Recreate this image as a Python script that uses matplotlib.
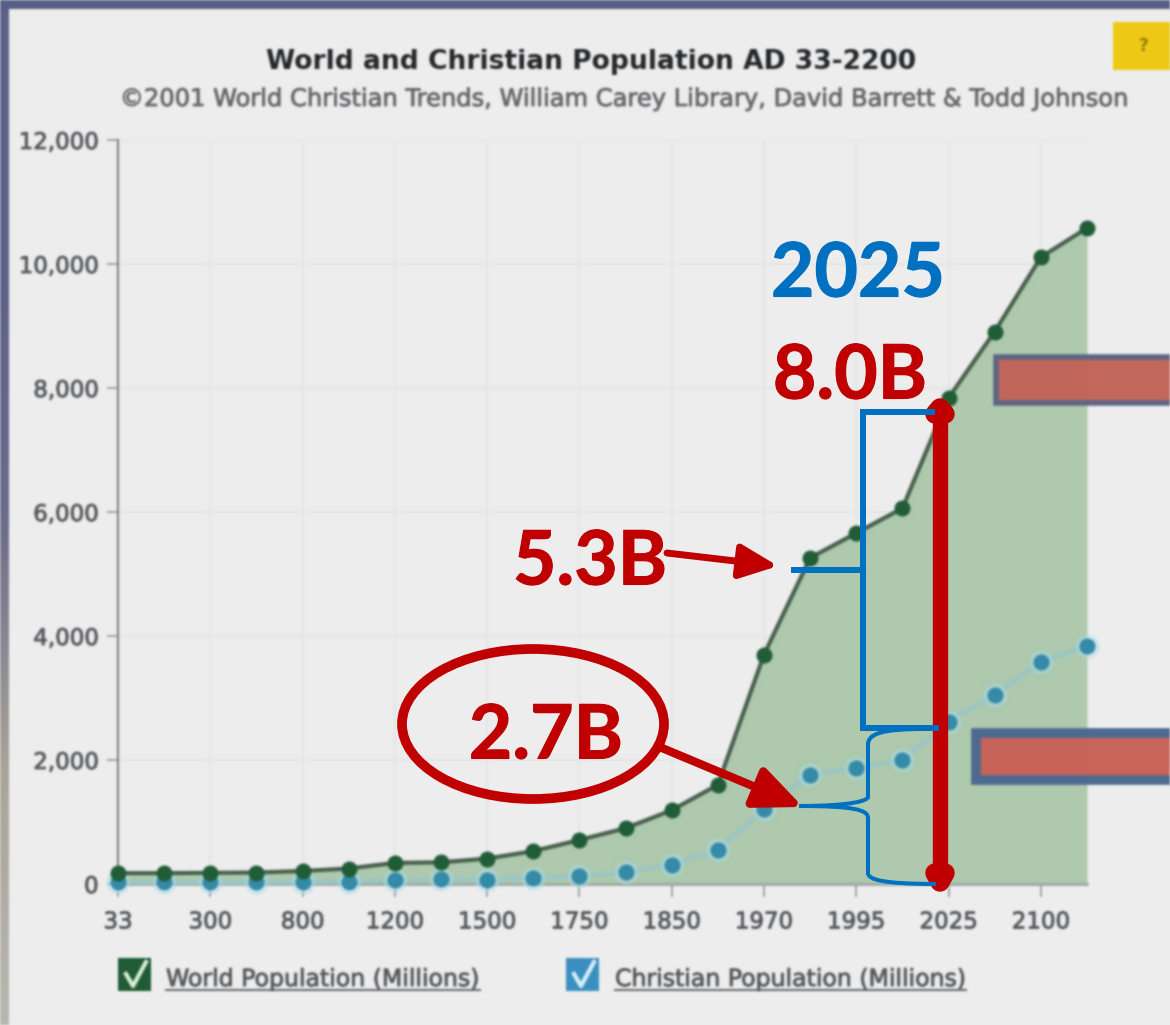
import numpy as np
import matplotlib
matplotlib.use('Agg')
import matplotlib.pyplot as plt
import matplotlib.patheffects as pe
from matplotlib.colors import LinearSegmentedColormap
from matplotlib.patches import Ellipse, PathPatch, Polygon, Rectangle
from matplotlib.path import Path

# Values (millions)
world_population = [175, 175, 180, 185, 210, 250, 340, 350, 410, 530, 710, 900,
                    1190, 1600, 3700, 5260, 5660, 6060, 7840, 8910, 10110, 10580]
christian_population = [30, 30, 30, 30, 35, 40, 60, 80, 70, 100, 130, 190,
                        310, 550, 1210, 1760, 1870, 2000, 2610, 3050, 3580, 3840]
x_tick_labels = ['33', '300', '800', '1200', '1500', '1750', '1850', '1970', '1995', '2025', '2100']
y_ticks = [0, 2000, 4000, 6000, 8000, 10000, 12000]

W, H = 1170, 1025
RED = '#c00000'
BLUE = '#0070c0'
GREY = '#55575a'


def blur(image, dpi, sigma=1.1):
    # the original is a video still, everything except the slide overlay is soft
    pad = int(sigma * 4)
    kernel = np.exp(-0.5 * (np.arange(-pad, pad + 1) / sigma) ** 2)
    kernel /= kernel.sum()
    img = np.pad(image, ((pad, pad), (pad, pad), (0, 0)))
    img[..., :3] *= img[..., 3:]
    for axis in (0, 1):
        img = np.apply_along_axis(lambda m: np.convolve(m, kernel, mode='same'), axis, img)
    img[..., :3] /= np.maximum(img[..., 3:], 1e-4)
    return np.clip(img, 0, 1), -pad, -pad


def heavier(text, width=0.6):
    text.set_path_effects([pe.withStroke(linewidth=width, foreground=text.get_color())])


fig = plt.figure(figsize=(W / 100, H / 100), dpi=100, facecolor='#ededee')

# Chart itself, placed on the screenshot's pixels
left, right, top, bottom = 118, 1087, 140, 884
ax = fig.add_axes([left / W, 1 - bottom / H, (right - left) / W, (bottom - top) / H], zorder=1)
ax.set_facecolor('none')
x = np.arange(len(world_population))
ax.fill_between(x, world_population, color='#aec9ad', lw=0, zorder=1)
ax.plot(x, christian_population, color='#9cc6c2', lw=3.5, zorder=3, clip_on=False)
ax.plot(x, christian_population, 'o', color='#a9dcea', ms=16, alpha=0.45, zorder=3, clip_on=False)
ax.plot(x, christian_population, 'o', color='#348aa8', ms=10.5, zorder=4, clip_on=False)
ax.plot(x, world_population, '-', color='#48604c', lw=3, zorder=5, clip_on=False)
ax.plot(x, world_population, 'o', color='#1f5c36', ms=10.5, zorder=6, clip_on=False)
ax.set_xlim(0, len(world_population) - 1)
ax.set_ylim(0, 12000)
ax.set_xticks(x[::2], x_tick_labels)
ax.set_yticks(y_ticks, [f'{v:,}' for v in y_ticks])
ax.grid(True, color='#e4e5e5', lw=1.5)
ax.set_axisbelow(True)
ax.tick_params(axis='x', length=9, width=1.3, color='#9a9fa0', labelcolor=GREY, labelsize=16.5, pad=10)
ax.tick_params(axis='y', length=8, width=1.3, color='#9a9fa0', labelcolor=GREY, labelsize=16.5, pad=6)
for label in ax.get_xticklabels() + ax.get_yticklabels():
    heavier(label)
for side in ('top', 'right'):
    ax.spines[side].set_visible(False)
ax.spines['left'].set_color('#7f8688')
ax.spines['left'].set_linewidth(1.6)
ax.spines['bottom'].set_color('#9aaba4')
ax.spines['bottom'].set_linewidth(2)
ax.set_agg_filter(blur)


def pixel_axes(zorder):
    a = fig.add_axes([0, 0, 1, 1], zorder=zorder)
    a.set_xlim(0, W)
    a.set_ylim(H, 0)
    a.axis('off')
    return a


# Rest of the screenshot: header, legend, frame, red boxes
shot = pixel_axes(2)
shot.text(591, 62, 'World and Christian Population AD 33-2200', ha='center', va='center',
          fontsize=19.1, fontweight='bold', color='#232527')
heavier(shot.text(624, 99, '©2001 World Christian Trends, William Carey Library, David Barrett & Todd Johnson',
                  ha='center', va='center', fontsize=17.4, color='#66686a'))

edge_cmap = LinearSegmentedColormap.from_list('edge', ['#5b6088', '#5b6088', '#6a6a8a', '#a8a498', '#b8b8b0'])
shot.imshow(np.linspace(0, 1, 256)[:, None], cmap=edge_cmap, extent=(0, 9, H, 0), aspect='auto')
shot.add_patch(Rectangle((0, 0), W, 9, color='#575e86', lw=0))
shot.set_xlim(0, W)
shot.set_ylim(H, 0)

shot.add_patch(Rectangle((1113, 22), 60, 48, color='#eec914', lw=0))
shot.text(1144, 46, '?', ha='center', va='center', fontsize=12, fontweight='bold', color='#8a7a10')

shot.add_patch(Rectangle((996, 357), 180, 46, fc='#c2665a', ec='#5e6684', lw=4))
shot.add_patch(Rectangle((976, 733), 200, 47, fc='#c8645a', ec='#4e6a90', lw=7))

# Legend
for lx, box, tick, label, tx, tx_end in [
        (118, '#1f5a34', '#d8f0d8', 'World Population (Millions)', 166, 480),
        (566, '#3a8fc0', '#d8f0fa', 'Christian Population (Millions)', 615, 966)]:
    shot.add_patch(Rectangle((lx, 958), 33, 33, color=box, lw=0))
    shot.plot([lx + 8, lx + 15, lx + 28], [974, 986, 962], color=tick, lw=3)
    heavier(shot.text(tx, 979, label, ha='left', va='center', fontsize=17, color=GREY))
    shot.plot([tx, tx_end], [990, 990], color='#6a6c6e', lw=1.5)
shot.set_agg_filter(blur)

# Slide overlay drawn on top, crisp
over = pixel_axes(3)
big = dict(family='Lato', fontweight='bold', ha='center', va='center', fontsize=54)
for tx, ty, label, colour in [(858, 275, '2025', BLUE), (850, 377, '8.0B', RED),
                              (590, 563, '5.3B', RED), (546, 737, '2.7B', RED)]:
    heavier(over.text(tx, ty, label, color=colour, **big), 0.8)
over.add_patch(Ellipse((533, 724), 262, 150, fc='none', ec=RED, lw=7))

# Arrows from the labels
for start, end, lw, head in [((667, 553), (778, 566), 5, 32), ((662, 748), (803, 807), 6, 40)]:
    over.annotate('', xy=end, xytext=start,
                  arrowprops=dict(arrowstyle=f'-|>,head_length={head * 0.72 / 4.5:.1f},head_width={head * 0.32 / 4.5:.1f}',
                                  color=RED, lw=lw, shrinkA=0, shrinkB=0, mutation_scale=4.5))

# Double headed bar, rounded heads
over.plot([940, 940], [410, 878], color=RED, lw=11, solid_capstyle='butt')
over.add_patch(Polygon([(940, 408), (945, 414), (935, 414)], fc=RED, ec=RED, lw=14, joinstyle='round'))
over.add_patch(Polygon([(940, 882), (945, 873), (935, 873)], fc=RED, ec=RED, lw=14, joinstyle='round'))

# Square bracket
over.plot([932, 863, 863, 936], [412, 412, 728, 728], color=BLUE, lw=4.3, solid_joinstyle='miter')
over.plot([794, 863], [570, 570], color=BLUE, lw=4.3)

# Curly brace
brace = Path([(925, 729), (880, 729), (868, 734), (868, 745),
              (868, 797), (868, 800), (855, 806), (799, 806),
              (855, 806), (868, 810), (868, 818),
              (868, 873), (868, 880), (885, 884), (936, 884)],
             [Path.MOVETO, Path.CURVE4, Path.CURVE4, Path.CURVE4,
              Path.LINETO, Path.CURVE4, Path.CURVE4, Path.CURVE4,
              Path.CURVE4, Path.CURVE4, Path.CURVE4,
              Path.LINETO, Path.CURVE4, Path.CURVE4, Path.CURVE4])
over.add_patch(PathPatch(brace, fc='none', ec=BLUE, lw=2.9))

fig.savefig('out.png', dpi=100, facecolor=fig.get_facecolor())
